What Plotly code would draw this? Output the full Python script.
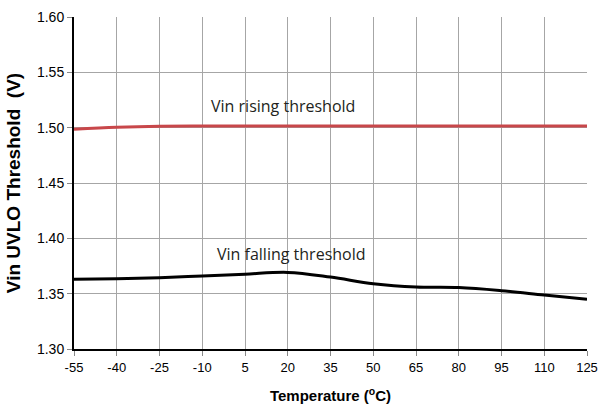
import plotly.graph_objects as go

temps = [-55, -40, -25, -10, 5, 20, 35, 50, 65, 80, 95, 110, 125]
rising = [1.4985, 1.5003, 1.5013, 1.5015, 1.5015, 1.5015, 1.5015, 1.5015, 1.5015, 1.5015, 1.5015, 1.5015, 1.5015]
falling = [1.3630, 1.3635, 1.3644, 1.3660, 1.3676, 1.3692, 1.3650, 1.3590, 1.3560, 1.3555, 1.3527, 1.3488, 1.3450]
x_ticks = temps
y_ticks = [1.30, 1.35, 1.40, 1.45, 1.50, 1.55, 1.60]

fig = go.Figure()
fig.add_trace(go.Scatter(x=temps, y=rising, mode="lines", line=dict(color="#c8474a", width=3, shape="spline"),
                         showlegend=False))
fig.add_trace(go.Scatter(x=temps, y=falling, mode="lines", line=dict(color="#000000", width=3, shape="spline"),
                         showlegend=False))

fig.add_annotation(x=18.3, y=1.520, text="Vin rising threshold", showarrow=False,
                   font=dict(family="Open Sans", size=16, color="#231f20"))
fig.add_annotation(x=21.4, y=1.3858, text="Vin falling threshold", showarrow=False,
                   font=dict(family="Open Sans", size=16, color="#231f20"))

fig.update_layout(
    width=600, height=404,
    margin=dict(l=74, r=13, t=17, b=55),
    paper_bgcolor="white", plot_bgcolor="white",
    font=dict(family="Liberation Sans, Arial", size=13, color="#000"),
    xaxis=dict(range=[-55, 125], tickvals=x_ticks, ticktext=[str(t) for t in x_ticks],
               showgrid=True, gridcolor="#a6a6a6", gridwidth=1,
               showline=True, linecolor="#000", linewidth=2,
               ticks="outside", ticklen=5, tickcolor="#888", zeroline=False,
               tickfont=dict(size=13), automargin=False,
               title=dict(text="<b>Temperature (<sup>o</sup>C)</b>", font=dict(size=15), standoff=22)),
    yaxis=dict(range=[1.30, 1.60], tickvals=y_ticks, ticktext=[f"{v:.2f}" for v in y_ticks],
               showgrid=True, gridcolor="#a6a6a6", gridwidth=1,
               showline=True, linecolor="#000", linewidth=2,
               ticks="outside", ticklen=5, tickcolor="#888", zeroline=False,
               tickfont=dict(size=14), automargin=False,
               title=dict(text="<b>Vin UVLO Threshold  (V)</b>", font=dict(size=19), standoff=11)),
)

fig.write_html(
    "out.html",
    config={"displayModeBar": False},
    post_script="document.body.style.margin='0';document.body.style.overflow='hidden';",
)
